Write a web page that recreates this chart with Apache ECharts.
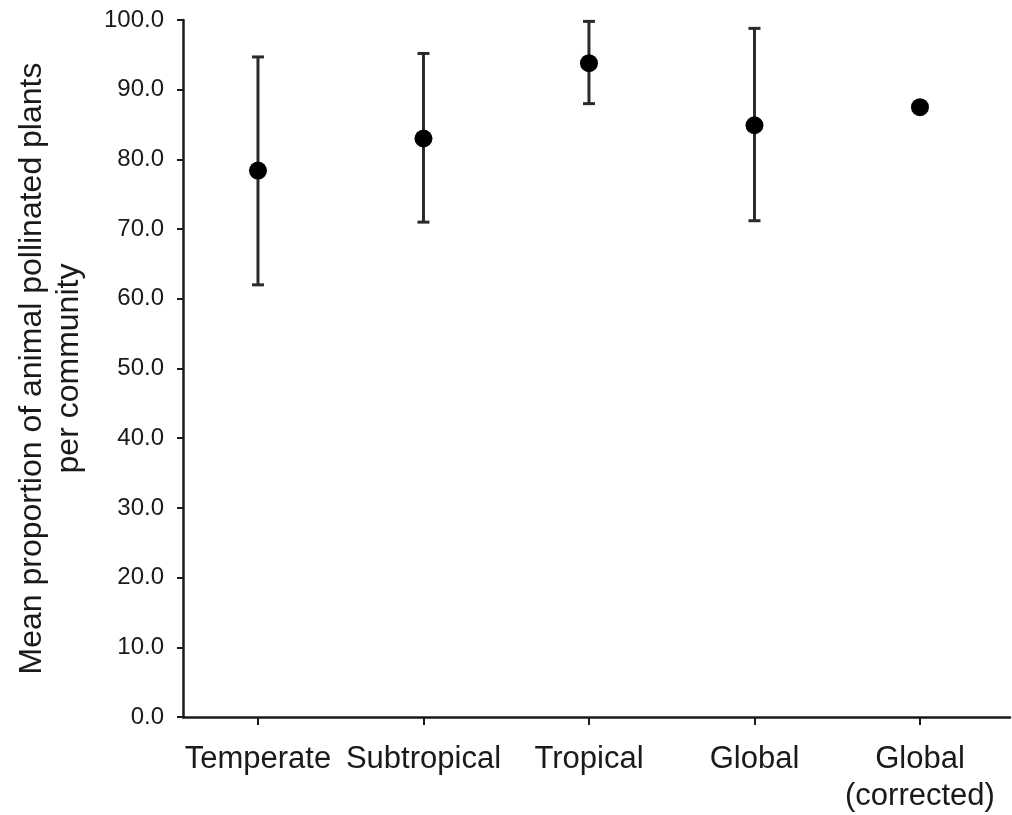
<!DOCTYPE html>
<html>
<head>
<meta charset="utf-8">
<script src="https://cdn.jsdelivr.net/npm/echarts@6/dist/echarts.min.js"></script>
<style>
html,body{margin:0;padding:0;background:#fff;}
#chart{width:1012px;height:815px;}
</style>
</head>
<body>
<div id="chart"></div>
<script>
const categories = ['Temperate', 'Subtropical', 'Tropical', 'Global', 'Global\n(corrected)'];
const means = [78.4, 83.0, 93.8, 84.9, 87.5];
const upper = [94.7, 95.2, 99.8, 98.8, null];
const lower = [62.0, 71.0, 88.0, 71.2, null];
const yTicks = [0, 10, 20, 30, 40, 50, 60, 70, 80, 90, 100];

const ink = '#1a1a1a';
const chart = echarts.init(document.getElementById('chart'), null, {renderer: 'canvas'});

const pointData = means.map((m, i) => [i, m]);
const errData = categories.map((c, i) => [i, lower[i], upper[i]]).filter(d => d[1] != null);

chart.setOption({
  animation: false,
  backgroundColor: '#fff',
  grid: {left: 183, right: 2, top: 20, bottom: 95, containLabel: false},
  xAxis: {
    type: 'value',
    min: -0.453,
    max: 4.544,
    splitLine: {show: false},
    axisLine: {show: true, onZero: false, lineStyle: {color: ink, width: 2.5}},
    axisTick: {show: true, length: 8, inside: false, lineStyle: {color: ink, width: 2}, customValues: [0, 1, 2, 3, 4]},
    axisLabel: {
      show: true,
      customValues: [0, 1, 2, 3, 4],
      formatter: v => categories[Math.round(v)],
      fontFamily: 'Liberation Sans, Arial, sans-serif',
      fontSize: 31,
      lineHeight: 37,
      color: ink,
      margin: 24
    }
  },
  yAxis: {
    type: 'value',
    min: 0,
    max: 100,
    interval: 10,
    splitLine: {show: false},
    axisLine: {show: true, onZero: false, lineStyle: {color: ink, width: 2.5}},
    axisTick: {show: true, length: 6, lineStyle: {color: ink, width: 2}},
    axisLabel: {
      formatter: v => (yTicks.includes(v) ? v.toFixed(1) : ''),
      fontFamily: 'Liberation Sans, Arial, sans-serif',
      fontSize: 24,
      color: ink,
      margin: 19
    },
    name: 'Mean proportion of animal pollinated plants\nper community',
    nameLocation: 'middle',
    nameGap: 95,
    nameMoveOverlap: false,
    nameTextStyle: {
      fontFamily: 'Liberation Sans, Arial, sans-serif',
      fontSize: 32,
      lineHeight: 37,
      color: ink,
      align: 'center'
    }
  },
  series: [
    {
      type: 'custom',
      data: errData,
      z: 2,
      renderItem: function (params, api) {
        const x = api.value(0);
        const lo = api.coord([x, api.value(1)]);
        const hi = api.coord([x, api.value(2)]);
        const hw = 6;
        const style = {stroke: '#2a2a2a', lineWidth: 3};
        return {
          type: 'group',
          children: [
            {type: 'line', shape: {x1: lo[0], y1: lo[1], x2: hi[0], y2: hi[1]}, style: style},
            {type: 'line', shape: {x1: hi[0] - hw, y1: hi[1], x2: hi[0] + hw, y2: hi[1]}, style: style},
            {type: 'line', shape: {x1: lo[0] - hw, y1: lo[1], x2: lo[0] + hw, y2: lo[1]}, style: style}
          ]
        };
      }
    },
    {
      type: 'scatter',
      data: pointData,
      symbol: 'circle',
      symbolSize: 18,
      z: 3,
      itemStyle: {color: '#000', opacity: 1}
    }
  ]
});
</script>
</body>
</html>
